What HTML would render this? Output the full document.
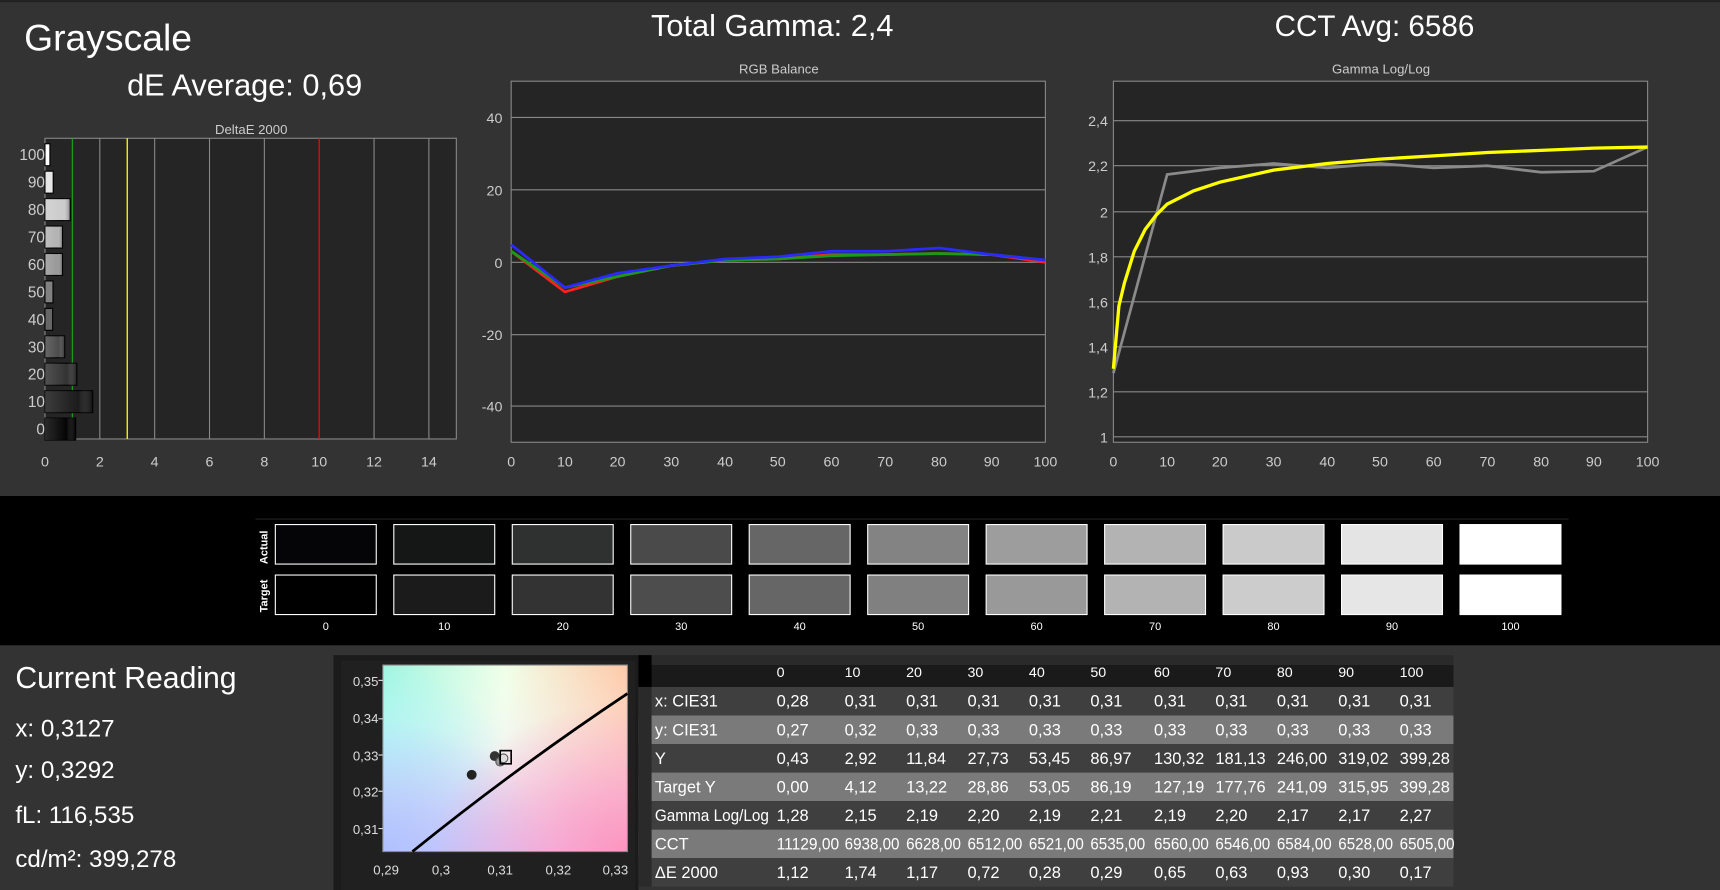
<!DOCTYPE html>
<html><head><meta charset="utf-8"><style>
html,body{margin:0;padding:0;background:#333;overflow:hidden}
svg{display:block}
text{font-family:"Liberation Sans","DejaVu Sans",sans-serif}
.n{font-family:"Liberation Sans Narrow","Liberation Sans",sans-serif}
</style></head><body>
<svg width="1720" height="890" viewBox="0 0 1568 811" preserveAspectRatio="none" xmlns="http://www.w3.org/2000/svg">
<defs>
<linearGradient id="bar" x1="0" x2="1" y1="0" y2="0"><stop offset="0" stop-color="#fff" stop-opacity="0.15"/><stop offset="0.7" stop-color="#fff" stop-opacity="0"/><stop offset="1" stop-color="#000" stop-opacity="0.35"/></linearGradient>
<linearGradient id="cieA" x1="0" y1="0" x2="1" y2="0"><stop offset="0" stop-color="#9ff5e0"/><stop offset="0.5" stop-color="#f0ffe8"/><stop offset="1" stop-color="#ffc8a8"/></linearGradient>
<linearGradient id="cieB" x1="0" y1="0" x2="0" y2="1"><stop offset="0" stop-color="#fff" stop-opacity="0"/><stop offset="1" stop-color="#e8c8ff" stop-opacity="0.9"/></linearGradient>
<radialGradient id="cieC" cx="1" cy="1" r="0.8"><stop offset="0" stop-color="#ff90b8" stop-opacity="0.9"/><stop offset="1" stop-color="#ff90b8" stop-opacity="0"/></radialGradient>
<radialGradient id="cieD" cx="0" cy="1" r="0.7"><stop offset="0" stop-color="#a8c0ff" stop-opacity="0.9"/><stop offset="1" stop-color="#a8c0ff" stop-opacity="0"/></radialGradient>
<radialGradient id="cieE" cx="0" cy="0.5" r="0.5"><stop offset="0" stop-color="#90f8f8" stop-opacity="0.8"/><stop offset="1" stop-color="#90f8f8" stop-opacity="0"/></radialGradient>
</defs>
<rect x="0" y="0" width="1568" height="811" fill="#333"/>
<rect x="0" y="0" width="1568" height="2" fill="#222"/>
<!-- titles -->
<text x="22" y="46" font-size="34" fill="#fff">Grayscale</text>
<text x="223" y="87" font-size="28" fill="#fff" text-anchor="middle">dE Average: 0,69</text>
<text x="704" y="33" font-size="28" fill="#fff" text-anchor="middle">Total Gamma: 2,4</text>
<text x="1253" y="33" font-size="27" fill="#fff" text-anchor="middle">CCT Avg: 6586</text>

<!-- DeltaE chart -->
<text x="229" y="122" font-size="12" fill="#ccc" text-anchor="middle">DeltaE 2000</text>
<rect x="41" y="126" width="375" height="274" fill="#252525" stroke="#888"/>
<g stroke="#888" stroke-width="1">
<line x1="91" y1="126" x2="91" y2="400"/><line x1="141" y1="126" x2="141" y2="400"/><line x1="191" y1="126" x2="191" y2="400"/><line x1="241" y1="126" x2="241" y2="400"/><line x1="341" y1="126" x2="341" y2="400"/><line x1="391" y1="126" x2="391" y2="400"/>
</g>
<line x1="66" y1="126" x2="66" y2="400" stroke="#1a9a1a" stroke-width="1.2"/>
<line x1="116" y1="126" x2="116" y2="400" stroke="#ffff00" stroke-width="1.2"/>
<line x1="291" y1="126" x2="291" y2="400" stroke="#ff0000" stroke-width="1.2"/>
<g stroke="#000" stroke-width="1">
<rect x="41" y="381" width="28" height="20" fill="#050505"/>
<rect x="41" y="356" width="43.5" height="20" fill="#1b1b1b"/>
<rect x="41" y="331" width="29" height="20" fill="#333"/>
<rect x="41" y="306" width="18" height="20" fill="#4c4c4c"/>
<rect x="41" y="281" width="7" height="20" fill="#666"/>
<rect x="41" y="256" width="7.3" height="20" fill="#808080"/>
<rect x="41" y="231" width="16" height="20" fill="#999"/>
<rect x="41" y="206" width="16" height="20" fill="#b3b3b3"/>
<rect x="41" y="181" width="23" height="20" fill="#ccc"/>
<rect x="41" y="156" width="7.5" height="20" fill="#e6e6e6"/>
<rect x="41" y="131" width="4.5" height="20" fill="#fff"/>
</g>
<g fill="url(#bar)">
<rect x="41" y="381" width="28" height="20"/><rect x="41" y="356" width="43.5" height="20"/><rect x="41" y="331" width="29" height="20"/><rect x="41" y="306" width="18" height="20"/><rect x="41" y="231" width="16" height="20"/><rect x="41" y="206" width="16" height="20"/><rect x="41" y="181" width="23" height="20"/>
</g>
<g font-size="14" fill="#ccc" text-anchor="end">
<text x="41" y="396">0</text><text x="41" y="371">10</text><text x="41" y="346">20</text><text x="41" y="321">30</text><text x="41" y="296">40</text><text x="41" y="271">50</text><text x="41" y="246">60</text><text x="41" y="221">70</text><text x="41" y="196">80</text><text x="41" y="171">90</text><text x="41" y="146">100</text>
</g>
<g font-size="13" fill="#ccc" text-anchor="middle">
<text x="41" y="425">0</text><text x="91" y="425">2</text><text x="141" y="425">4</text><text x="191" y="425">6</text><text x="241" y="425">8</text><text x="291" y="425">10</text><text x="341" y="425">12</text><text x="391" y="425">14</text>
</g>

<!-- RGB Balance -->
<text x="710" y="67" font-size="12" fill="#ccc" text-anchor="middle">RGB Balance</text>
<rect x="466" y="74" width="487" height="329" fill="#252525" stroke="#888"/>
<g stroke="#888"><line x1="466" y1="107" x2="953" y2="107"/><line x1="466" y1="173" x2="953" y2="173"/><line x1="466" y1="239" x2="953" y2="239"/><line x1="466" y1="305" x2="953" y2="305"/><line x1="466" y1="370" x2="953" y2="370"/></g>
<g font-size="13" fill="#ccc" text-anchor="end"><text x="458" y="112">40</text><text x="458" y="178">20</text><text x="458" y="244">0</text><text x="458" y="310">-20</text><text x="458" y="375">-40</text></g>
<g font-size="13" fill="#ccc" text-anchor="middle"><text x="466" y="425">0</text><text x="515" y="425">10</text><text x="563" y="425">20</text><text x="612" y="425">30</text><text x="661" y="425">40</text><text x="709" y="425">50</text><text x="758" y="425">60</text><text x="807" y="425">70</text><text x="856" y="425">80</text><text x="904" y="425">90</text><text x="953" y="425">100</text></g>
<polyline fill="none" stroke="#ff2020" stroke-width="2.5" points="466,229 515,266 563,252 612,242 661,237 709,236 758,232 807,232 856,231 904,232 953,239"/>
<polyline fill="none" stroke="#1a9a1a" stroke-width="2.5" points="466,229 515,262 563,252 612,242 661,237 709,236 758,233 807,232 856,231 904,232 953,237"/>
<polyline fill="none" stroke="#2a2aff" stroke-width="2.5" points="466,223 515,262 563,249 612,242 661,236 709,234 758,229 807,229 856,226 904,232 953,237"/>

<!-- Gamma -->
<text x="1259" y="67" font-size="12" fill="#ccc" text-anchor="middle">Gamma Log/Log</text>
<rect x="1015" y="74" width="487" height="329" fill="#252525" stroke="#888"/>
<g stroke="#888"><line x1="1015" y1="110" x2="1502" y2="110"/><line x1="1015" y1="151" x2="1502" y2="151"/><line x1="1015" y1="193" x2="1502" y2="193"/><line x1="1015" y1="234" x2="1502" y2="234"/><line x1="1015" y1="275" x2="1502" y2="275"/><line x1="1015" y1="316" x2="1502" y2="316"/><line x1="1015" y1="357" x2="1502" y2="357"/><line x1="1015" y1="398" x2="1502" y2="398"/></g>
<g font-size="13" fill="#ccc" text-anchor="end"><text x="1010" y="115">2,4</text><text x="1010" y="156">2,2</text><text x="1010" y="198">2</text><text x="1010" y="239">1,8</text><text x="1010" y="280">1,6</text><text x="1010" y="321">1,4</text><text x="1010" y="362">1,2</text><text x="1010" y="403">1</text></g>
<g font-size="13" fill="#ccc" text-anchor="middle"><text x="1015" y="425">0</text><text x="1064" y="425">10</text><text x="1112" y="425">20</text><text x="1161" y="425">30</text><text x="1210" y="425">40</text><text x="1258" y="425">50</text><text x="1307" y="425">60</text><text x="1356" y="425">70</text><text x="1405" y="425">80</text><text x="1453" y="425">90</text><text x="1502" y="425">100</text></g>
<polyline fill="none" stroke="#8a8a8a" stroke-width="2.5" points="1015,340 1064,159 1112,153 1161,149 1210,153 1258,149 1307,153 1356,151 1405,157 1453,156 1502,134"/>
<polyline fill="none" stroke="#ffff00" stroke-width="3" points="1015,336 1020,279 1025,258 1034,229 1044,209 1054,196 1064,186 1088,174 1112,166 1161,155 1210,149 1258,145 1307,142 1356,139 1405,137 1453,135 1502,134"/>

<!-- swatch band -->
<rect x="0" y="452" width="1568" height="136" fill="#000"/>
<line x1="233" y1="473" x2="1430" y2="473" stroke="#222"/>
<g font-size="10" fill="#fff" font-weight="bold">
<text transform="translate(244,514) rotate(-90)">Actual</text>
<text transform="translate(244,558) rotate(-90)">Target</text>
</g>
<g stroke="#fff" stroke-width="1">
<rect x="251" y="478" width="92" height="36" fill="#050507"/><rect x="359" y="478" width="92" height="36" fill="#151717"/><rect x="467" y="478" width="92" height="36" fill="#2f3030"/><rect x="575" y="478" width="92" height="36" fill="#4a4a4a"/><rect x="683" y="478" width="92" height="36" fill="#666"/><rect x="791" y="478" width="92" height="36" fill="#838383"/><rect x="899" y="478" width="92" height="36" fill="#9d9d9d"/><rect x="1007" y="478" width="92" height="36" fill="#b3b3b3"/><rect x="1115" y="478" width="92" height="36" fill="#cacaca"/><rect x="1223" y="478" width="92" height="36" fill="#e4e4e4"/><rect x="1331" y="478" width="92" height="36" fill="#fff"/>
<rect x="251" y="524" width="92" height="36" fill="#000"/><rect x="359" y="524" width="92" height="36" fill="#1b1b1b"/><rect x="467" y="524" width="92" height="36" fill="#333"/><rect x="575" y="524" width="92" height="36" fill="#4d4d4d"/><rect x="683" y="524" width="92" height="36" fill="#666"/><rect x="791" y="524" width="92" height="36" fill="#808080"/><rect x="899" y="524" width="92" height="36" fill="#999"/><rect x="1007" y="524" width="92" height="36" fill="#b3b3b3"/><rect x="1115" y="524" width="92" height="36" fill="#ccc"/><rect x="1223" y="524" width="92" height="36" fill="#e6e6e6"/><rect x="1331" y="524" width="92" height="36" fill="#fff"/>
</g>
<g font-size="10" fill="#fff" text-anchor="middle">
<text x="297" y="574">0</text><text x="405" y="574">10</text><text x="513" y="574">20</text><text x="621" y="574">30</text><text x="729" y="574">40</text><text x="837" y="574">50</text><text x="945" y="574">60</text><text x="1053" y="574">70</text><text x="1161" y="574">80</text><text x="1269" y="574">90</text><text x="1377" y="574">100</text>
</g>

<!-- current reading -->
<g fill="#fff">
<text x="14" y="627" font-size="27.5">Current Reading</text>
<text x="14" y="671" font-size="22">x: 0,3127</text>
<text x="14" y="709" font-size="22">y: 0,3292</text>
<text x="14" y="750" font-size="22">fL: 116,535</text>
<text x="14" y="790" font-size="22">cd/m²: 399,278</text>
</g>

<!-- CIE -->
<rect x="304" y="597" width="278" height="214" fill="#1b1b1b"/>
<rect x="311" y="602" width="268" height="209" fill="#202020"/>
<rect x="349" y="606" width="223" height="170" fill="url(#cieA)"/>
<rect x="349" y="606" width="223" height="170" fill="url(#cieE)"/>
<rect x="349" y="606" width="223" height="170" fill="url(#cieB)"/>
<rect x="349" y="606" width="223" height="170" fill="url(#cieD)"/>
<rect x="349" y="606" width="223" height="170" fill="url(#cieC)"/>
<rect x="349" y="606" width="223" height="170" fill="none" stroke="#888"/>
<path d="M376,776 Q470,700 572,632" fill="none" stroke="#000" stroke-width="2.5"/>
<circle cx="430" cy="706" r="4.5" fill="#222"/>
<circle cx="451" cy="689" r="4.5" fill="#333"/>
<circle cx="456" cy="694" r="4" fill="#999" stroke="#555"/>
<circle cx="459" cy="691" r="4" fill="#ddd" stroke="#555"/>
<rect x="456" y="684" width="10" height="12" fill="none" stroke="#000" stroke-width="1.5"/>
<g font-size="12" fill="#ddd" text-anchor="end"><text x="345" y="625">0,35</text><text x="345" y="659">0,34</text><text x="345" y="693">0,33</text><text x="345" y="726">0,32</text><text x="345" y="760">0,31</text></g>
<g stroke="#ddd"><line x1="345" y1="620" x2="349" y2="620"/><line x1="345" y1="655" x2="349" y2="655"/><line x1="345" y1="688" x2="349" y2="688"/><line x1="345" y1="721" x2="349" y2="721"/><line x1="345" y1="755" x2="349" y2="755"/></g>
<g font-size="12" fill="#ddd" text-anchor="middle"><text x="352" y="797">0,29</text><text x="402" y="797">0,3</text><text x="456" y="797">0,31</text><text x="509" y="797">0,32</text><text x="561" y="797">0,33</text></g>

<!-- table -->
<rect x="582" y="597" width="743" height="29" fill="#2a2a2a"/>
<rect x="582" y="606" width="743" height="20" fill="#1a1a1a"/>
<rect x="582" y="597" width="12" height="29" fill="#000"/>
<g>
<rect x="582" y="626" width="743" height="26" fill="#3f3f3f"/>
<rect x="582" y="652" width="743" height="26" fill="#7a7a7a"/>
<rect x="582" y="678" width="743" height="26" fill="#3f3f3f"/>
<rect x="582" y="704" width="743" height="26" fill="#7a7a7a"/>
<rect x="582" y="730" width="743" height="26" fill="#3f3f3f"/>
<rect x="582" y="756" width="743" height="26" fill="#7a7a7a"/>
<rect x="582" y="782" width="743" height="26" fill="#3f3f3f"/>
<rect x="582" y="626" width="12" height="182" fill="#2a2a2a"/>
</g>
<g font-size="13" fill="#fff" class="n">
<text x="708" y="617">0</text><text x="770" y="617">10</text><text x="826" y="617">20</text><text x="882" y="617">30</text><text x="938" y="617">40</text><text x="994" y="617">50</text><text x="1052" y="617">60</text><text x="1108" y="617">70</text><text x="1164" y="617">80</text><text x="1220" y="617">90</text><text x="1276" y="617">100</text>
</g>
<g font-size="15" fill="#fff" class="n">
<text x="597" y="644">x: CIE31</text><text x="708" y="644">0,28</text><text x="770" y="644">0,31</text><text x="826" y="644">0,31</text><text x="882" y="644">0,31</text><text x="938" y="644">0,31</text><text x="994" y="644">0,31</text><text x="1052" y="644">0,31</text><text x="1108" y="644">0,31</text><text x="1164" y="644">0,31</text><text x="1220" y="644">0,31</text><text x="1276" y="644">0,31</text>
<text x="597" y="670">y: CIE31</text><text x="708" y="670">0,27</text><text x="770" y="670">0,32</text><text x="826" y="670">0,33</text><text x="882" y="670">0,33</text><text x="938" y="670">0,33</text><text x="994" y="670">0,33</text><text x="1052" y="670">0,33</text><text x="1108" y="670">0,33</text><text x="1164" y="670">0,33</text><text x="1220" y="670">0,33</text><text x="1276" y="670">0,33</text>
<text x="597" y="696">Y</text><text x="708" y="696">0,43</text><text x="770" y="696">2,92</text><text x="826" y="696">11,84</text><text x="882" y="696">27,73</text><text x="938" y="696">53,45</text><text x="994" y="696">86,97</text><text x="1052" y="696">130,32</text><text x="1108" y="696">181,13</text><text x="1164" y="696">246,00</text><text x="1220" y="696">319,02</text><text x="1276" y="696">399,28</text>
<text x="597" y="722">Target Y</text><text x="708" y="722">0,00</text><text x="770" y="722">4,12</text><text x="826" y="722">13,22</text><text x="882" y="722">28,86</text><text x="938" y="722">53,05</text><text x="994" y="722">86,19</text><text x="1052" y="722">127,19</text><text x="1108" y="722">177,76</text><text x="1164" y="722">241,09</text><text x="1220" y="722">315,95</text><text x="1276" y="722">399,28</text>
<text x="597" y="748" textLength="104" lengthAdjust="spacingAndGlyphs">Gamma Log/Log</text><text x="708" y="748">1,28</text><text x="770" y="748">2,15</text><text x="826" y="748">2,19</text><text x="882" y="748">2,20</text><text x="938" y="748">2,19</text><text x="994" y="748">2,21</text><text x="1052" y="748">2,19</text><text x="1108" y="748">2,20</text><text x="1164" y="748">2,17</text><text x="1220" y="748">2,17</text><text x="1276" y="748">2,27</text>
<text x="597" y="774">CCT</text><text x="708" y="774" textLength="57" lengthAdjust="spacingAndGlyphs">11129,00</text><text x="770" y="774" textLength="50" lengthAdjust="spacingAndGlyphs">6938,00</text><text x="826" y="774" textLength="50" lengthAdjust="spacingAndGlyphs">6628,00</text><text x="882" y="774" textLength="50" lengthAdjust="spacingAndGlyphs">6512,00</text><text x="938" y="774" textLength="50" lengthAdjust="spacingAndGlyphs">6521,00</text><text x="994" y="774" textLength="50" lengthAdjust="spacingAndGlyphs">6535,00</text><text x="1052" y="774" textLength="50" lengthAdjust="spacingAndGlyphs">6560,00</text><text x="1108" y="774" textLength="50" lengthAdjust="spacingAndGlyphs">6546,00</text><text x="1164" y="774" textLength="50" lengthAdjust="spacingAndGlyphs">6584,00</text><text x="1220" y="774" textLength="50" lengthAdjust="spacingAndGlyphs">6528,00</text><text x="1276" y="774" textLength="50" lengthAdjust="spacingAndGlyphs">6505,00</text>
<text x="597" y="800">ΔE 2000</text><text x="708" y="800">1,12</text><text x="770" y="800">1,74</text><text x="826" y="800">1,17</text><text x="882" y="800">0,72</text><text x="938" y="800">0,28</text><text x="994" y="800">0,29</text><text x="1052" y="800">0,65</text><text x="1108" y="800">0,63</text><text x="1164" y="800">0,93</text><text x="1220" y="800">0,30</text><text x="1276" y="800">0,17</text>
</g>
</svg>
</body></html>
